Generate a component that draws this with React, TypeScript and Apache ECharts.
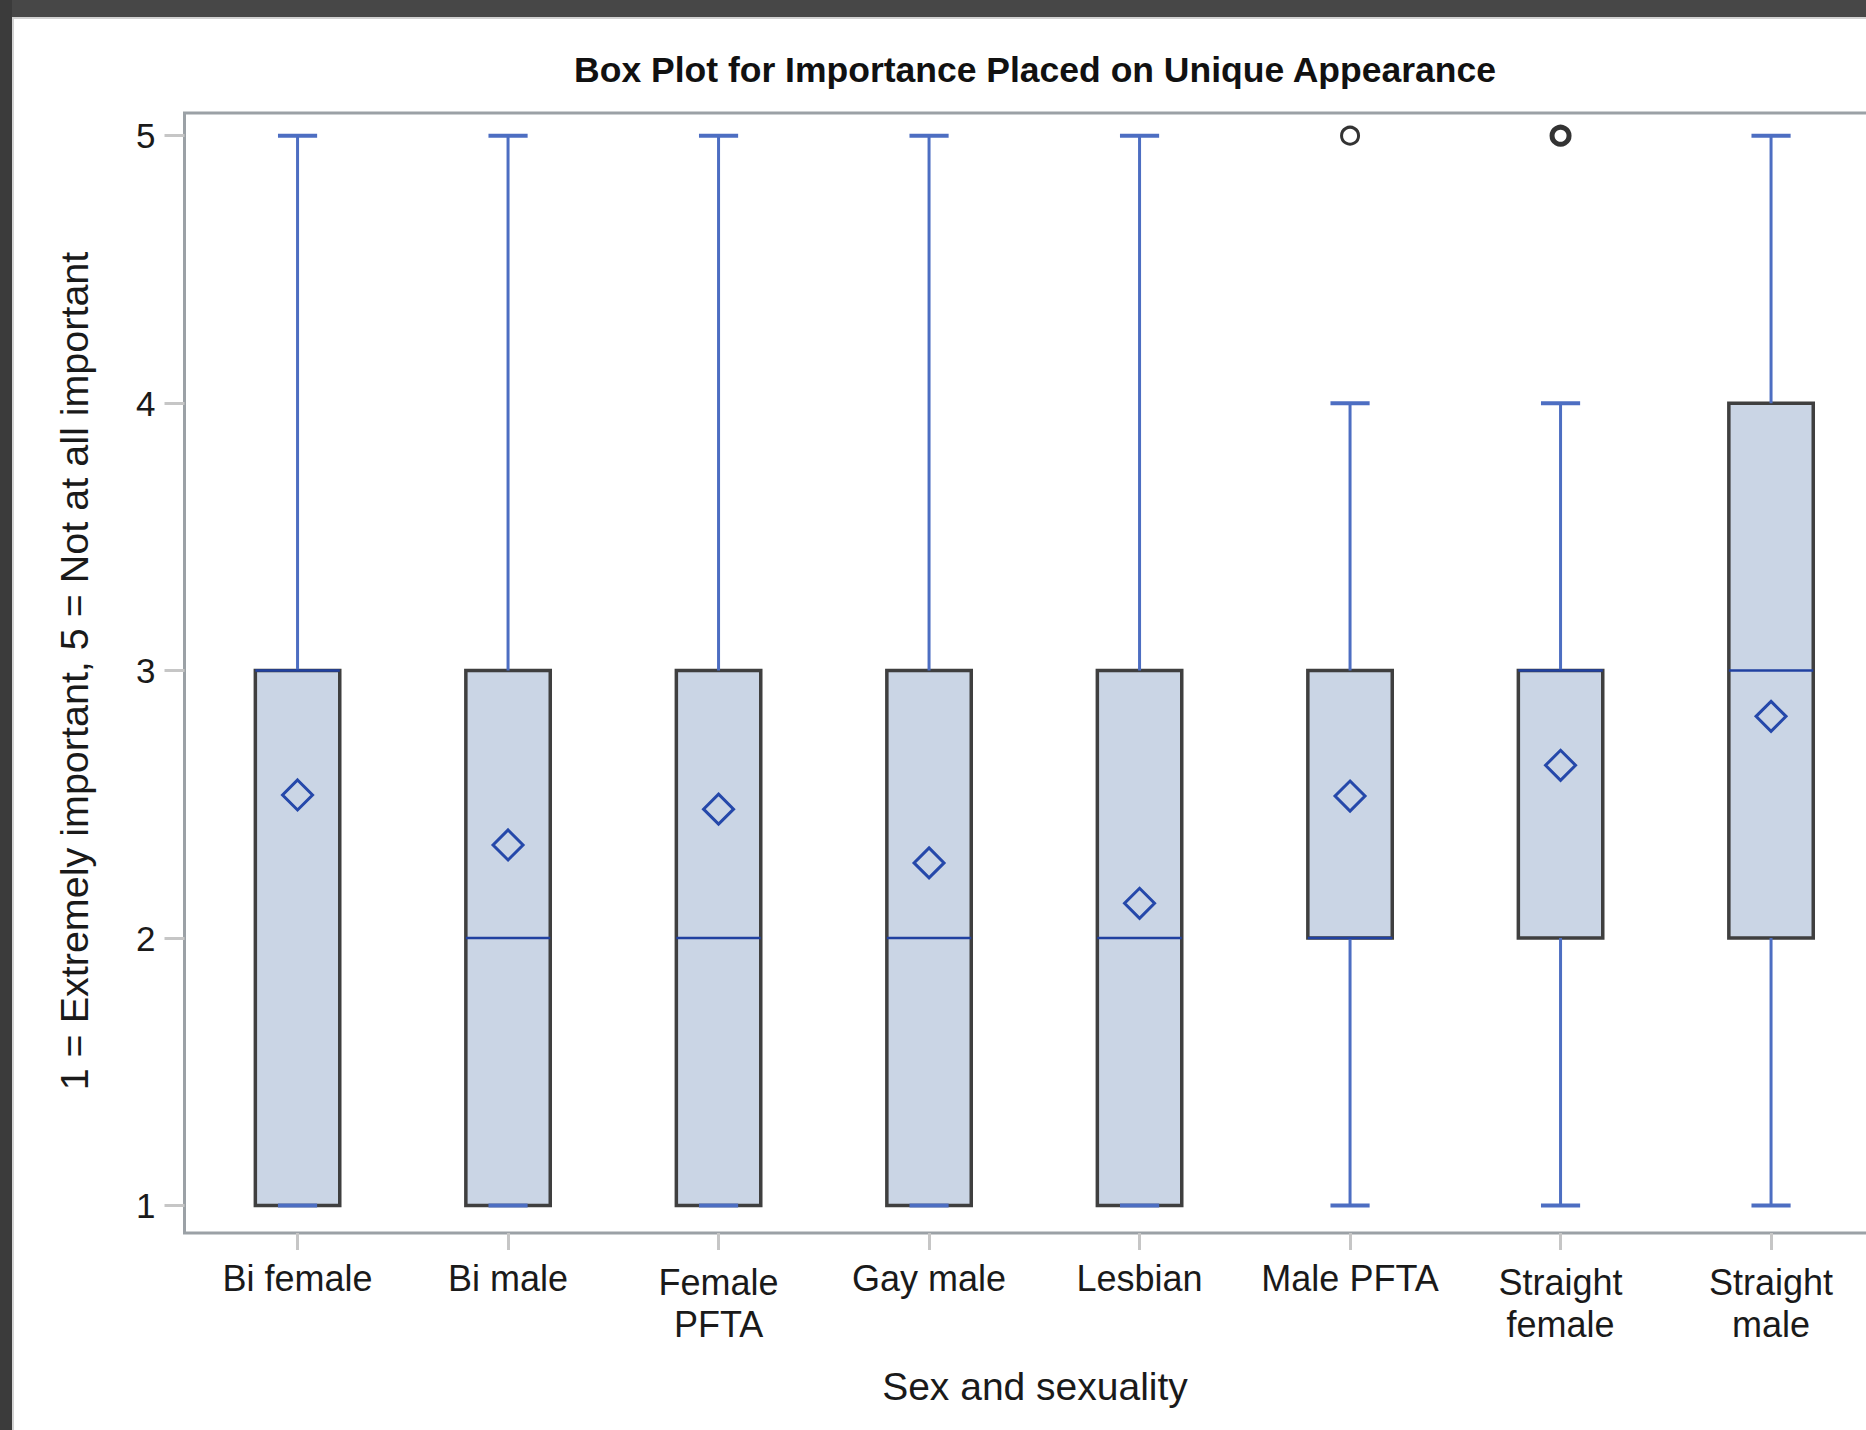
import React, { useEffect, useRef } from 'react';
import * as echarts from 'echarts';

// ---- data ----
const categories = ['Bi female', 'Bi male', 'Female\nPFTA', 'Gay male', 'Lesbian', 'Male PFTA', 'Straight\nfemale', 'Straight\nmale'];
const whiskerLow = [1, 1, 1, 1, 1, 1, 1, 1];
const q1 = [1, 1, 1, 1, 1, 2, 2, 2];
const medians = [3, 2, 2, 2, 2, 2, 3, 3];
const q3 = [3, 3, 3, 3, 3, 3, 3, 4];
const whiskerHigh = [5, 5, 5, 5, 5, 4, 4, 5];
const means = [2.535, 2.348, 2.482, 2.281, 2.13, 2.531, 2.646, 2.829];
const outlierCategory = [5, 6];
const outlierValue = [5, 5];
const outlierCount = [1, 3];
const yTicks = [1, 2, 3, 4, 5];

const FONT = '"Liberation Sans", Arial, sans-serif';
const BLUE = '#4d6ec2';
const DARK_BLUE = '#2141a0';

export default function App() {
  const ref = useRef<HTMLDivElement>(null);
  useEffect(() => {
    const chart = echarts.init(ref.current!, null, { renderer: 'svg' });
    const boxData = categories.map((_, i) => [i, whiskerLow[i], q1[i], medians[i], q3[i], whiskerHigh[i], means[i]]);
    const outlierData = outlierCategory.map((c, i) => ({
      value: [c, outlierValue[i]],
      itemStyle: { borderWidth: outlierCount[i] > 1 ? 5 : 3 },
    }));
    const xData = categories.map((c) => (c.indexOf('\n') >= 0 ? { value: c, textStyle: { padding: [4, 0, 0, 0] } } : c));

    chart.setOption({
      animation: false,
      backgroundColor: '#ffffff',
      grid: { left: 192.3, top: 135.7, width: 1684, height: 1069.8, containLabel: false },
      xAxis: {
        type: 'category',
        data: xData,
        offset: 27.5,
        axisLine: { show: false },
        axisTick: { show: true, alignWithLabel: true, length: 17, lineStyle: { color: '#c6c6c6', width: 3 } },
        axisLabel: {
          margin: 24,
          fontFamily: FONT,
          fontSize: 36,
          lineHeight: 42,
          color: '#1a1a1a',
          interval: 0,
        },
        splitLine: { show: false },
      },
      yAxis: {
        type: 'value',
        min: yTicks[0],
        max: yTicks[yTicks.length - 1],
        interval: 1,
        offset: 7.8,
        axisLine: { show: false },
        axisTick: { show: true, length: 20, lineStyle: { color: '#c6c6c6', width: 3 } },
        axisLabel: { margin: 29, fontFamily: FONT, fontSize: 35, color: '#1a1a1a' },
        splitLine: { show: false },
      },
      graphic: [
        { type: 'rect', z: -10, shape: { x: 0, y: 0, width: 1920, height: 17 }, style: { fill: '#474747' } },
        { type: 'rect', z: -10, shape: { x: 0, y: 0, width: 12, height: 1430 }, style: { fill: '#3b3b3b' } },
        { type: 'rect', z: -10, shape: { x: 12, y: 17, width: 1908, height: 2 }, style: { fill: '#d2d2d2' } },
        { type: 'rect', z: -10, shape: { x: 12, y: 17, width: 2, height: 1413 }, style: { fill: '#d2d2d2' } },
        {
          type: 'rect', z: -5,
          shape: { x: 184.5, y: 113, width: 1800, height: 1120 },
          style: { fill: 'none', stroke: '#9ba1a6', lineWidth: 3 },
        },
        {
          type: 'text', x: 1035, y: 70,
          style: { text: 'Box Plot for Importance Placed on Unique Appearance', fontFamily: FONT, fontSize: 35.5, fontWeight: 'bold', fill: '#111', textAlign: 'center', textVerticalAlign: 'middle' },
        },
        {
          type: 'text', x: 1035, y: 1386,
          style: { text: 'Sex and sexuality', fontFamily: FONT, fontSize: 39, fill: '#1a1a1a', textAlign: 'center', textVerticalAlign: 'middle' },
        },
        {
          type: 'text', x: 74, y: 671, rotation: Math.PI / 2,
          style: { text: '1 = Extremely important, 5 = Not at all important', fontFamily: FONT, fontSize: 39.5, fill: '#1a1a1a', textAlign: 'center', textVerticalAlign: 'middle' },
        },
      ],
      series: [
        {
          type: 'custom',
          data: boxData,
          encode: { x: 0, y: [1, 2, 3, 4, 5, 6] },
          renderItem: (params: any, api: any) => {
            const x = api.value(0);
            const pMin = api.coord([x, api.value(1)]);
            const pQ1 = api.coord([x, api.value(2)]);
            const pMed = api.coord([x, api.value(3)]);
            const pQ3 = api.coord([x, api.value(4)]);
            const pMax = api.coord([x, api.value(5)]);
            const pMean = api.coord([x, api.value(6)]);
            const band = api.size([1, 0])[0];
            const cx = pQ1[0];
            const bw = band * 0.401;
            const cw = band * 0.186;
            const d = 15;
            const children: any[] = [];
            children.push({
              type: 'rect',
              shape: { x: cx - bw / 2, y: pQ3[1], width: bw, height: pQ1[1] - pQ3[1] },
              style: { fill: '#cad5e5', stroke: '#3f3f3f', lineWidth: 3.5 },
            });
            if (pMax[1] < pQ3[1]) {
              children.push({ type: 'line', shape: { x1: cx, y1: pQ3[1], x2: cx, y2: pMax[1] }, style: { stroke: BLUE, lineWidth: 3 } });
            }
            if (pMin[1] > pQ1[1]) {
              children.push({ type: 'line', shape: { x1: cx, y1: pQ1[1], x2: cx, y2: pMin[1] }, style: { stroke: BLUE, lineWidth: 3 } });
            }
            children.push({ type: 'line', shape: { x1: cx - cw / 2, y1: pMax[1], x2: cx + cw / 2, y2: pMax[1] }, style: { stroke: BLUE, lineWidth: 4 } });
            children.push({ type: 'line', shape: { x1: cx - cw / 2, y1: pMin[1], x2: cx + cw / 2, y2: pMin[1] }, style: { stroke: BLUE, lineWidth: 4 } });
            children.push({ type: 'line', shape: { x1: cx - bw / 2, y1: pMed[1], x2: cx + bw / 2, y2: pMed[1] }, style: { stroke: DARK_BLUE, lineWidth: 2.5 } });
            children.push({
              type: 'polygon',
              shape: { points: [[cx, pMean[1] - d], [cx + d, pMean[1]], [cx, pMean[1] + d], [cx - d, pMean[1]]] },
              style: { fill: 'none', stroke: '#2548aa', lineWidth: 3 },
            });
            return { type: 'group', children };
          },
        },
        {
          type: 'scatter',
          data: outlierData,
          symbol: 'circle',
          symbolSize: 17,
          itemStyle: { color: '#ffffff', borderColor: '#000000', borderWidth: 3 },
        },
      ],
    });
    return () => chart.dispose();
  }, []);
  return (
    <div style={{ position: 'fixed', left: 0, top: 0, width: 1866, height: 1430, overflow: 'hidden', background: '#fff' }}>
      <div ref={ref} style={{ width: 1920, height: 1430 }} />
    </div>
  );
}
